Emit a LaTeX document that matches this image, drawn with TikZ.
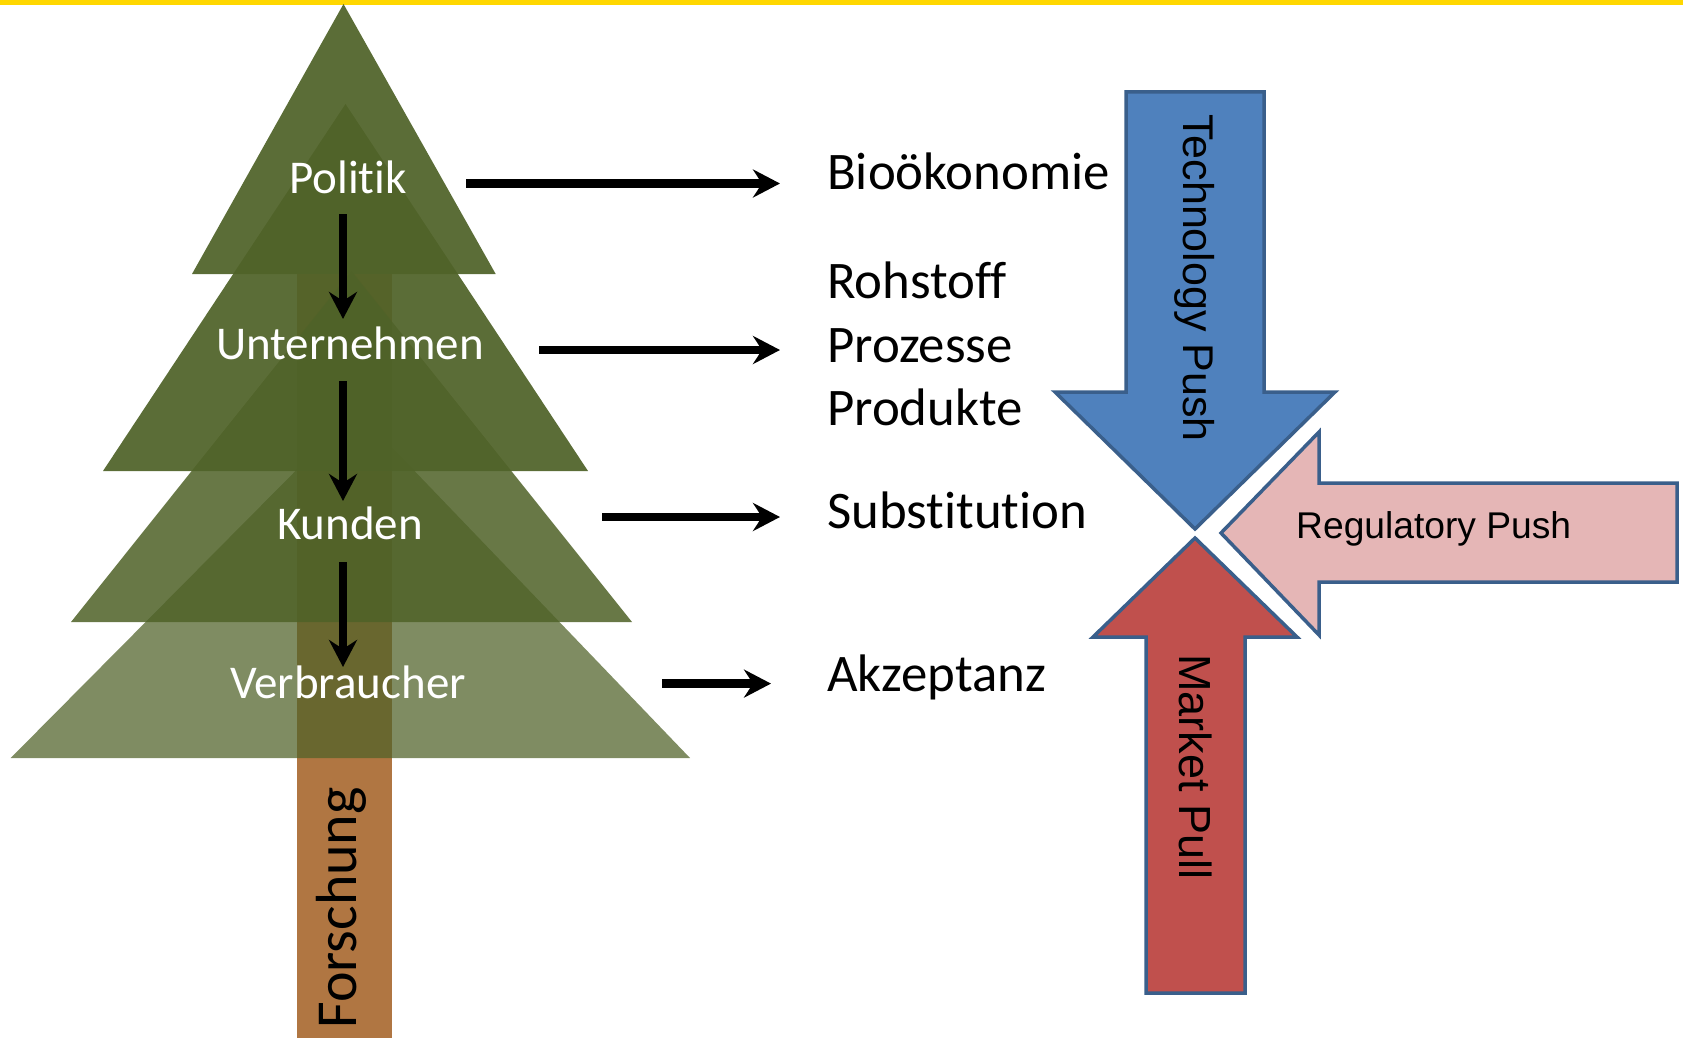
\documentclass[tikz,border=0pt]{standalone}
\usepackage{fontspec}
\setmainfont{Carlito}[Ligatures={NoCommon}]
\newfontfamily\arialf{Liberation Sans}
\usetikzlibrary{arrows.meta}
\definecolor{treegreen}{HTML}{4F6228}
\definecolor{trunkbrown}{HTML}{B07642}
\definecolor{goldline}{HTML}{FFD700}
\definecolor{bluefill}{HTML}{4F81BD}
\definecolor{redfill}{HTML}{C0504D}
\definecolor{pinkfill}{HTML}{E5B6B6}
\definecolor{outl}{HTML}{3A5F8B}
\begin{document}
\begin{tikzpicture}[x=1pt,y=-1pt,
  treetxt/.style={text=white,inner sep=0pt,anchor=base,font=\fontsize{47}{56}\selectfont},
  righttxt/.style={text=black,inner sep=0pt,anchor=base west,font=\fontsize{52.8}{62}\selectfont},
  armtxt/.style={text=black,inner sep=0pt,anchor=base west},
  blockarrow/.style={draw=outl,line width=3.5pt,line join=miter},
  conn/.style={line width=8.5pt,-{Stealth[length=27pt,width=28pt,inset=9pt]}}]
\useasboundingbox (0,0) rectangle (1683,1038);
% top line
\fill[goldline] (0,0) rectangle (1683,5);
% trunk
\fill[trunkbrown] (297,274) rectangle (392,1038);
% tree layers
\fill[treegreen,fill opacity=0.93] (192,274) -- (343.5,4) -- (495.7,274) -- cycle;
\fill[treegreen,fill opacity=0.93] (103,471) -- (345.5,104) -- (588,471) -- cycle;
\fill[treegreen,fill opacity=0.86] (71,622) -- (351.5,271) -- (632,622) -- cycle;
\fill[treegreen,fill opacity=0.73] (10.7,758) -- (356,410) -- (690,758) -- cycle;
% tree labels
\node[treetxt] (politik) at (348,193) {Politik};
\node[treetxt] (unternehmen) at (350,359) {Unternehmen};
\node[treetxt] (kunden) at (350,539) {Kunden};
\node[treetxt] (verbraucher) at (348,698) {Verbraucher};
\node[armtxt,rotate=90,font=\fontsize{58}{68}\selectfont] (forschung) at (356,1029) {Forschung};
% down arrows
\coordinate (d1s) at (343,214); \coordinate (d1e) at (343,319);
\coordinate (d2s) at (343,381); \coordinate (d2e) at (343,501);
\coordinate (d3s) at (343,562); \coordinate (d3e) at (343,667);
\draw[conn] (d1s) -- (d1e);
\draw[conn] (d2s) -- (d2e);
\draw[conn] (d3s) -- (d3e);
% right labels
\node[righttxt] (bio) at (827,189.4) {Bioökonomie};
\node[righttxt] (rohstoff) at (827,298.6) {Rohstoff};
\node[righttxt] (prozesse) at (827,362.6) {Prozesse};
\node[righttxt] (produkte) at (827,425.8) {Produkte};
\node[righttxt] (subst) at (827,528.5) {Substitution};
\node[righttxt] (akz) at (827,691.3) {Akzeptanz};
% horizontal arrows
\coordinate (h1s) at (466,183.5); \coordinate (h1e) at (780,183.5);
\coordinate (h2s) at (539,350); \coordinate (h2e) at (780,350);
\coordinate (h3s) at (602,517); \coordinate (h3e) at (780,517);
\coordinate (h4s) at (662,683.6); \coordinate (h4e) at (771,683.6);
\draw[conn] (h1s) -- (h1e);
\draw[conn] (h2s) -- (h2e);
\draw[conn] (h3s) -- (h3e);
\draw[conn] (h4s) -- (h4e);
% block arrows
\draw[blockarrow,fill=bluefill] (1126,92) -- (1264,92) -- (1264,392) -- (1335,392) -- (1195,529) -- (1055,392) -- (1126,392) -- cycle;
\draw[blockarrow,fill=redfill] (1146,993) -- (1146,637) -- (1093,637) -- (1195,538) -- (1297,637) -- (1245,637) -- (1245,993) -- cycle;
\draw[blockarrow,fill=pinkfill] (1677,483) -- (1319,483) -- (1319,432) -- (1221,533) -- (1319,635) -- (1319,582) -- (1677,582) -- cycle;
\node[armtxt,rotate=-90,font=\arialf\fontsize{43}{50}\selectfont] (tech) at (1183,114) {Technology Push};
\node[armtxt,rotate=-90,font=\arialf\fontsize{45}{52}\selectfont] (market) at (1179,654) {Market Pull};
\node[armtxt,font=\arialf\fontsize{37.2}{44}\selectfont] (reg) at (1296,538) {Regulatory Push};
\end{tikzpicture}
\end{document}
